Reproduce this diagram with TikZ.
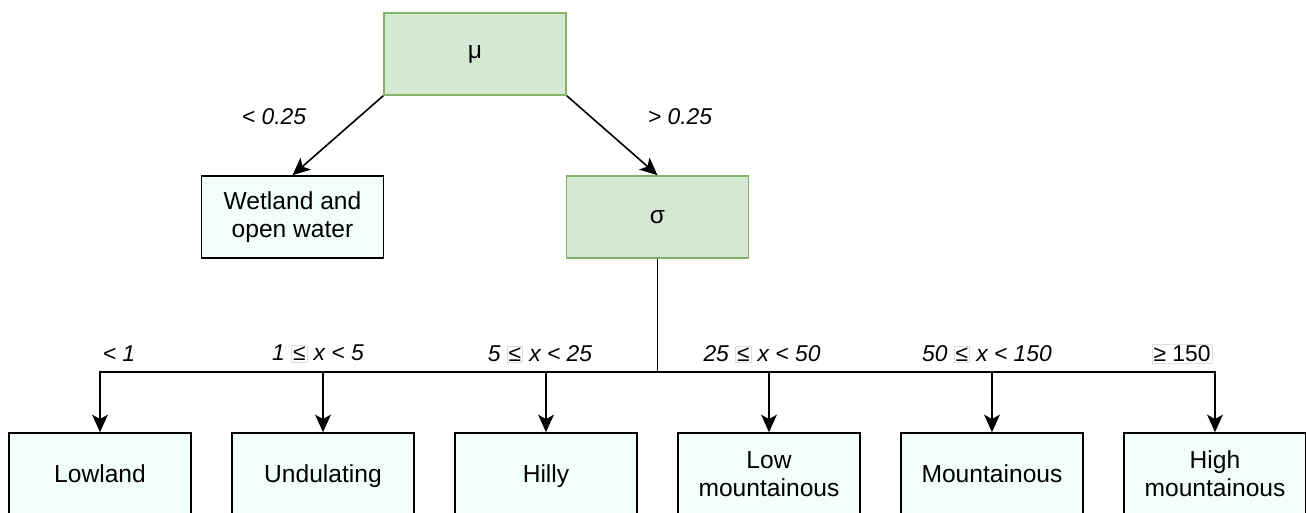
\documentclass[tikz,border=0pt]{standalone}
\usepackage{fontspec}
\setmainfont{Liberation Sans}
\usetikzlibrary{arrows.meta}
\definecolor{SplitFill}{HTML}{D5E8D4}
\definecolor{SplitLine}{HTML}{82B366}
\definecolor{ClassFill}{HTML}{F2FFF9}
\definecolor{GlyphBox}{HTML}{DDDDDD}
\newcommand{\lebox}{{\setlength{\fboxsep}{0.6pt}\setlength{\fboxrule}{0.4pt}\fcolorbox{GlyphBox}{white}{\upshape ≤}}}
\newcommand{\geqbox}[1]{{\setlength{\fboxsep}{0.6pt}\setlength{\fboxrule}{0.4pt}\fcolorbox{GlyphBox}{white}{#1}}}

\begin{document}
\begin{tikzpicture}[x=0.02cm,y=-0.02cm,
  split/.style={draw=SplitLine,fill=SplitFill,line width=0.9pt,minimum width=3.64cm,minimum height=1.64cm,font=\fontsize{14}{16}\selectfont},
  class/.style={draw=black,fill=ClassFill,line width=0.9pt,minimum width=3.64cm,minimum height=1.64cm,align=center,font=\fontsize{14}{16}\selectfont},
  oneline/.style={class,text height=10pt,text depth=0pt},
  rule/.style={font=\fontsize{13}{15}\selectfont\itshape,inner sep=1pt},
  arr/.style={line width=0.9pt,-{Stealth[length=10pt,width=9pt,inset=2.5pt]}}]
\useasboundingbox (0,0) rectangle (1306,513);

\node[split] (mu) at (475,54) {μ};
\node[split] (sigma) at (657.5,217) {σ};
\node[class] (wetland) at (292.5,217) {Wetland and\\open water};

\node[oneline] (lowland) at (100,474) {Lowland};
\node[oneline] (undulating) at (323,474) {Undulating};
\node[oneline] (hilly) at (546,474) {Hilly};
\node[class] (lowmount) at (769,474) {Low\\mountainous};
\node[oneline] (mount) at (992,474) {Mountainous};
\node[class] (highmount) at (1215,474) {High\\mountainous};

\coordinate (bus) at (657.5,372);

\draw[arr] (mu.south west) -- (wetland.north);
\draw[arr] (mu.south east) -- (sigma.north);
\draw[line width=0.9pt] (sigma.south) -- (bus);
\foreach \leaf in {lowland,undulating,hilly,lowmount,mount,highmount}
  \draw[arr] (bus) -| (\leaf.north);

\node[rule] (lowmu) at (274,117) {< 0.25};
\node[rule] (highmu) at (680,117) {> 0.25};
\node[rule] (r1) at (119,354) {< 1};
\node[rule] (r2) at (318,354) {1 \lebox\ x < 5};
\node[rule] (r3) at (540,354) {5 \lebox\ x < 25};
\node[rule] (r4) at (762,354) {25 \lebox\ x < 50};
\node[rule] (r5) at (987,354) {50 \lebox\ x < 150};
\node[rule,font=\fontsize{13}{15}\selectfont] (r6) at (1182,354) {\geqbox{≥ 150}};

\end{tikzpicture}
\end{document}
